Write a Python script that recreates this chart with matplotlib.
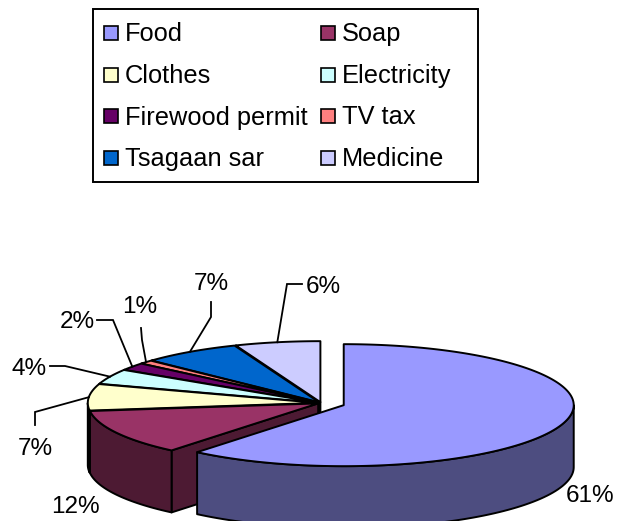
import numpy as np
import matplotlib
matplotlib.use("Agg")
import matplotlib.pyplot as plt
from matplotlib.patches import Polygon, Rectangle
from matplotlib.colors import to_rgb

# Household spending shares (%)
categories = ["Food", "Soap", "Clothes", "Electricity",
              "Firewood permit", "TV tax", "Tsagaan sar", "Medicine"]
shares = [61, 12, 7, 4, 2, 1, 7, 6]
colors = ["#9999FF", "#993366", "#FFFFCC", "#CCFFFF",
          "#660066", "#FF8080", "#0066CC", "#CCCCFF"]
explode = [0.105, 0.014, 0.014, 0.014, 0.014, 0.014, 0.014, 0.014]

# label placement: text baseline position and leader-line elbow points
label_pos = [(590, 502), (75, 513), (35, 455), (29, 375),
             (77, 328), (140, 313), (211, 290), (323, 293)]
leader_pts = [None, None,
              [(35, 412), (35, 425)],
              [(65, 366), (50, 366)],
              [(113, 320), (97, 320)],
              [(142, 340), (141, 328)],
              [(211, 317), (211, 302)],
              [(287, 284), (302, 284)]]

W, H = 617, 521
plt.rcParams["font.family"] = ["Liberation Sans", "DejaVu Sans"]
fig = plt.figure(figsize=(W / 100, H / 100), dpi=100)
ax = fig.add_axes([0, 0, 1, 1])
ax.set_xlim(0, W)
ax.set_ylim(H, 0)
ax.axis("off")

# 3-D pie geometry (pixel space, y downward)
CX, CY, RX, RY, DEPTH = 321, 403, 230, 61, 62
EDGE = dict(edgecolor="black", linewidth=1.4, joinstyle="round")


def rim(theta, off, dz=0.0):
    t = np.radians(theta)
    return (CX + off[0] + RX * np.sin(t), CY + off[1] - RY * np.cos(t) + dz)


def dark(c, f=0.5):
    r, g, b = to_rgb(c)
    return (r * f, g * f, b * f)


total = float(sum(shares))
bounds = np.concatenate([[0], np.cumsum(shares)]) / total * 360.0

slices = []
for i, v in enumerate(shares):
    a1, a2 = bounds[i], bounds[i + 1]
    mid = 0.5 * (a1 + a2)
    tm = np.radians(mid)
    off = (RX * explode[i] * np.sin(tm), -RY * explode[i] * np.cos(tm))
    slices.append(dict(i=i, a1=a1, a2=a2, mid=mid, off=off,
                       front=-np.cos(tm), exp=explode[i]))


def draw_walls(s):
    c = colors[s["i"]]
    off = s["off"]
    apex = (CX + off[0], CY + off[1])
    apex_b = (apex[0], apex[1] + DEPTH)
    a1, a2 = s["a1"], s["a2"]
    # radial cut faces
    if np.sin(np.radians(a1)) < 0:
        p = rim(a1, off)
        ax.add_patch(Polygon([apex, p, (p[0], p[1] + DEPTH), apex_b],
                             closed=True, facecolor=dark(c), **EDGE))
    if np.sin(np.radians(a2)) > 0:
        p = rim(a2, off)
        ax.add_patch(Polygon([apex, p, (p[0], p[1] + DEPTH), apex_b],
                             closed=True, facecolor=dark(c), **EDGE))
    # outer curved wall (front-facing part only)
    lo, hi = max(a1, 90.0), min(a2, 270.0)
    if hi > lo:
        th = np.linspace(lo, hi, 80)
        top = [rim(t, off) for t in th]
        bot = [rim(t, off, DEPTH) for t in th[::-1]]
        ax.add_patch(Polygon(top + bot, closed=True,
                             facecolor=dark(c), **EDGE))


def draw_top(s):
    c = colors[s["i"]]
    off = s["off"]
    apex = (CX + off[0], CY + off[1])
    th = np.linspace(s["a1"], s["a2"], max(4, int(s["a2"] - s["a1"]) * 2))
    pts = [apex] + [rim(t, off) for t in th]
    ax.add_patch(Polygon(pts, closed=True, facecolor=c, **EDGE))


maxexp = max(explode)
rest = sorted([s for s in slices if s["exp"] < maxexp], key=lambda s: s["front"])
lead = [s for s in slices if s["exp"] >= maxexp]
for s in rest:
    draw_walls(s)
for s in rest:
    draw_top(s)
for s in lead:
    draw_walls(s)
    draw_top(s)

# percentage labels with leader lines
for s in slices:
    i = s["i"]
    tx, ty = label_pos[i]
    ax.text(tx, ty, f"{shares[i]}%", ha="center", va="baseline",
            fontsize=17.5, color="black", zorder=10)
    if leader_pts[i] is not None:
        anchor = rim(s["mid"], s["off"])
        xs = [anchor[0]] + [p[0] for p in leader_pts[i]]
        ys = [anchor[1]] + [p[1] for p in leader_pts[i]]
        ax.plot(xs, ys, color="black", lw=1.3, zorder=9,
                solid_joinstyle="miter")

# legend box
ax.add_patch(Rectangle((93, 9), 385, 173, facecolor="white",
                       edgecolor="black", linewidth=1.4, zorder=5))
col_x = [104, 321]
row_base = [41, 83, 124.5, 166]
for k, name in enumerate(categories):
    r, cidx = divmod(k, 2)
    mx = col_x[cidx]
    by = row_base[r]
    ax.add_patch(Rectangle((mx, by - 15.5), 14, 14, facecolor=colors[k],
                           edgecolor="black", linewidth=1.2, zorder=6))
    ax.text(mx + 21, by, name, ha="left", va="baseline",
            fontsize=18.3, color="black", zorder=6)

fig.savefig("out.png", dpi=100)
